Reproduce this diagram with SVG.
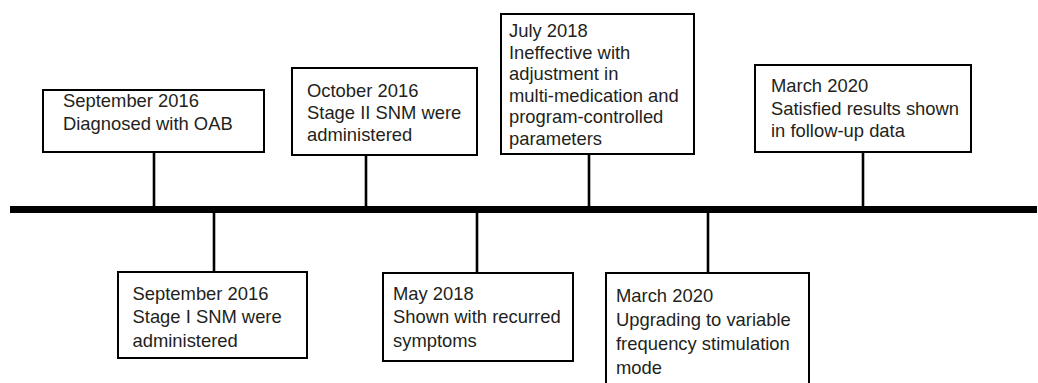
<svg xmlns="http://www.w3.org/2000/svg" width="1038" height="383" viewBox="0 0 1038 383">
<style>
.box{fill:#fff;stroke:#000;stroke-width:2}
.t{font-family:"Liberation Sans",Arial,Helvetica,sans-serif;font-size:18.4px;fill:#231f20}
.c{stroke:#000;stroke-width:2.6;fill:none}
.axis{stroke:#000;stroke-width:7;fill:none}
</style>
<rect width="1038" height="383" fill="#fff"/>
<g id="connectors">
<line class="axis" x1="10" y1="209.5" x2="1037" y2="209.5"/>
<line class="c" x1="154" y1="152" x2="154" y2="209"/>
<line class="c" x1="366" y1="155" x2="366" y2="213"/>
<line class="c" x1="589" y1="154" x2="589" y2="209"/>
<line class="c" x1="863" y1="152" x2="863" y2="209"/>
<line class="c" x1="214" y1="209" x2="214" y2="273"/>
<line class="c" x1="477" y1="209" x2="477" y2="273"/>
<line class="c" x1="708" y1="209" x2="708" y2="273"/>
</g>
<g id="n1">
<rect class="box" x="43" y="90" width="221" height="62"/>
<text class="t" x="63" y="107">September 2016</text>
<text class="t" x="63" y="130">Diagnosed with OAB</text>
</g>
<g id="n2">
<rect class="box" x="292" y="68" width="185" height="87"/>
<text class="t" x="307" y="97">October 2016</text>
<text class="t" x="307" y="119">Stage II SNM were</text>
<text class="t" x="307" y="141">administered</text>
</g>
<g id="n3">
<rect class="box" x="501" y="14" width="193" height="140"/>
<text class="t" x="509" y="37">July 2018</text>
<text class="t" x="509" y="58.5">Ineffective with</text>
<text class="t" x="509" y="80">adjustment in</text>
<text class="t" x="509" y="101.7">multi-medication and</text>
<text class="t" x="509" y="123.3">program-controlled</text>
<text class="t" x="509" y="145">parameters</text>
</g>
<g id="n4">
<rect class="box" x="755" y="65" width="216" height="87"/>
<text class="t" x="771" y="92">March 2020</text>
<text class="t" x="771" y="114.5">Satisfied results shown</text>
<text class="t" x="771" y="137">in follow-up data</text>
</g>
<g id="n5">
<rect class="box" x="118" y="272" width="189" height="86"/>
<text class="t" x="132.5" y="300">September 2016</text>
<text class="t" x="132.5" y="323">Stage I SNM were</text>
<text class="t" x="132.5" y="346.5">administered</text>
</g>
<g id="n6">
<rect class="box" x="383" y="273" width="190" height="88"/>
<text class="t" x="393" y="300">May 2018</text>
<text class="t" x="393" y="323">Shown with recurred</text>
<text class="t" x="393" y="346.5">symptoms</text>
</g>
<g id="n7">
<rect class="box" x="606" y="273" width="203" height="122"/>
<text class="t" x="616" y="302">March 2020</text>
<text class="t" x="616" y="325.5">Upgrading to variable</text>
<text class="t" x="616" y="349.5">frequency stimulation</text>
<text class="t" x="616" y="373.5">mode</text>
</g>
</svg>
